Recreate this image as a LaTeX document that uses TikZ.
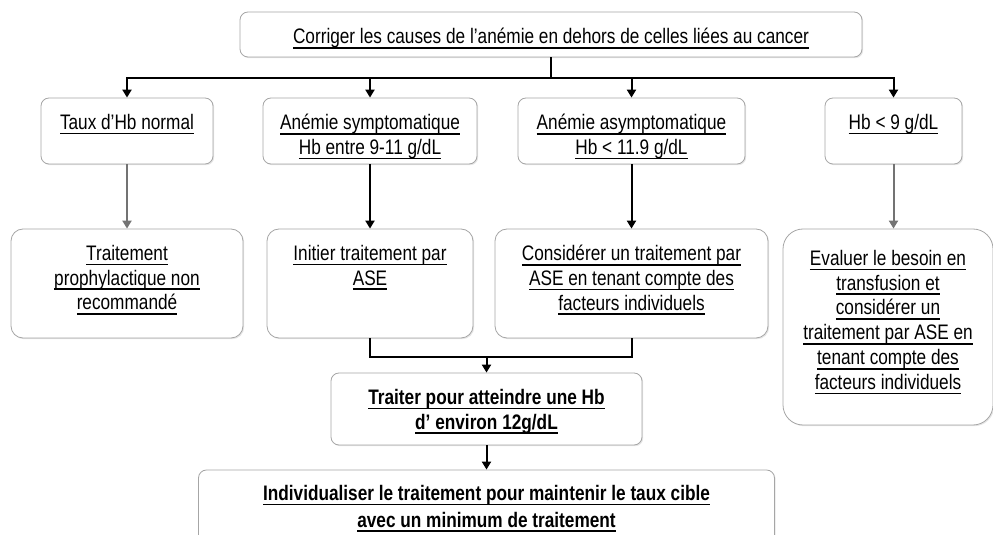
\documentclass[tikz,border=0pt]{standalone}
\usepackage{fontspec}
\setmainfont{Liberation Sans}[FakeStretch=0.82]
\usetikzlibrary{arrows.meta}
\usetikzlibrary{positioning}
\usetikzlibrary{shadows}
\newcommand{\souligne}[1]{\leavevmode\setbox0\hbox{#1}\rlap{\rule[-2.6pt]{\wd0}{0.9pt}}\box0}
\tikzset{
    etape/.style={
      rectangle, rounded corners=4pt,
           draw=black!35, thin, fill=white,
           drop shadow={opacity=0.2,shadow xshift=0.6pt,shadow yshift=-0.6pt},
           inner sep=0pt,
           },
}
\tikzset{
    libelle/.style={
      anchor=north, align=center,
           inner sep=0pt,
           font=\fontsize{10.5}{12.4}\selectfont,
           yshift=-8pt,
           },
}
\tikzset{
    fleche/.style={
      -{Triangle[length=4pt,width=4.5pt]},
           line width=1pt, draw=black,
           },
}
\tikzset{
    flechegrise/.style={
      -{Triangle[length=4pt,width=4.5pt]},
           line width=1pt, draw=black!55,
           },
}
\begin{document}
\begin{tikzpicture}[x=0.5pt,y=-0.5pt]

\useasboundingbox (0,0) rectangle (993,535);

\node[etape,minimum width=311pt,minimum height=22.5pt](cor) at (551,34.5){};
\node[libelle](cortxt) at (cor.north){\souligne{Corriger les causes de l'anémie en dehors de celles liées au cancer}};

\node[etape,minimum width=86pt,minimum height=33pt](taux) at (127,131){};
\node[etape,minimum width=107pt,minimum height=33pt](symp) at (370,131){};
\node[etape,minimum width=113.5pt,minimum height=33pt](asymp) at (631.5,131){};
\node[etape,minimum width=68.5pt,minimum height=33pt](hb) at (893.5,131){};

\node[libelle](tauxtxt) at (taux.north){\souligne{Taux d'Hb normal}};
\node[libelle](symptxt) at (symp.north){\souligne{Anémie symptomatique}\\\souligne{Hb entre 9-11 g/dL}};
\node[libelle](asymptxt) at (asymp.north){\souligne{Anémie asymptomatique}\\\souligne{Hb < 11.9 g/dL}};
\node[libelle](hbtxt) at (hb.north){\souligne{Hb < 9 g/dL}};

\coordinate (split) at (551,78);
\draw[line width=1pt] (cor.south) -- (split);
\draw[fleche] (split) -| (taux);
\draw[fleche] (split) -| (symp);
\draw[fleche] (split) -| (asymp);
\draw[fleche] (split) -| (hb);

\node[etape,rounded corners=6pt,minimum width=116pt,minimum height=54.5pt](proph) at (127,283.5){};
\node[etape,rounded corners=6pt,minimum width=103pt,minimum height=54.5pt](initier) at (370,283.5){};
\node[etape,rounded corners=6pt,minimum width=136.5pt,minimum height=54.5pt](consid) at (631.5,283.5){};
\node[etape,rounded corners=10pt,minimum width=105pt,minimum height=98pt](eval) at (888,327){};

\node[libelle](prophtxt) at (proph.north){\souligne{Traitement}\\\souligne{prophylactique non}\\\souligne{recommandé}};
\node[libelle](initiertxt) at (initier.north){\souligne{Initier traitement par}\\\souligne{ASE}};
\node[libelle](considtxt) at (consid.north){\souligne{Considérer un traitement par}\\\souligne{ASE en tenant compte des}\\\souligne{facteurs individuels}};
\node[libelle,yshift=-2.5pt](evaltxt) at (eval.north){\souligne{Evaluer le besoin en}\\\souligne{transfusion et}\\\souligne{considérer un}\\\souligne{traitement par ASE en}\\\souligne{tenant compte des}\\\souligne{facteurs individuels}};

\draw[flechegrise] (taux) -- (proph);
\draw[fleche] (symp) -- (initier);
\draw[fleche] (asymp) -- (consid);
\draw[flechegrise] (hb.south) -- (hb.south |- eval.north);

\node[etape,minimum width=155.5pt,minimum height=36pt](traiter) at (486.5,409){};
\node[libelle,font=\fontsize{10.5}{12.4}\selectfont\bfseries](traitertxt) at (traiter.north){\souligne{Traiter pour atteindre une Hb}\\\souligne{d' environ 12g/dL}};

\coordinate (merge) at (486.5,357);
\draw[line width=1pt] (initier.south) |- (merge) -| (consid.south);
\draw[fleche] (merge) -- (traiter);

\node[etape,minimum width=288pt,minimum height=45pt](indiv) at (486.5,515){};
\node[libelle,yshift=0.5pt,font=\fontsize{10.5}{13.4}\selectfont\bfseries](indivtxt) at (indiv.north){\souligne{Individualiser le traitement pour maintenir le taux cible}\\\souligne{avec un minimum de traitement}};

\draw[fleche] (traiter) -- (indiv);

\end{tikzpicture}
\end{document}
